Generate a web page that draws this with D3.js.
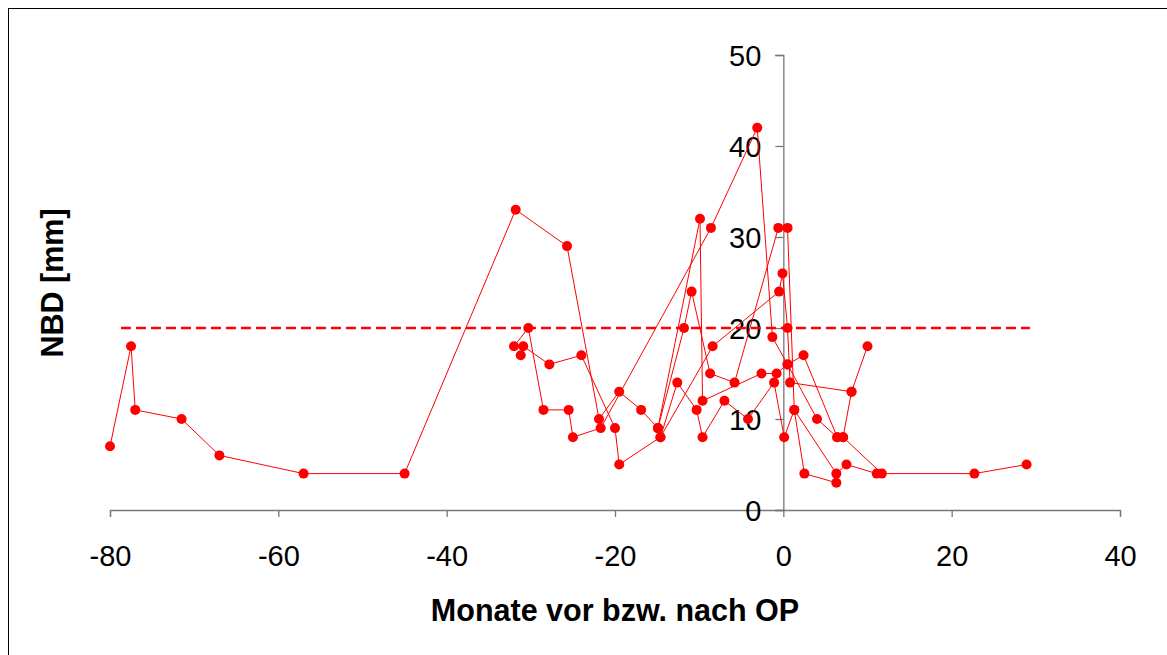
<!DOCTYPE html>
<html>
<head>
<meta charset="utf-8">
<script src="https://cdn.jsdelivr.net/npm/d3@7"></script>
<style>
  body { margin: 0; background: #fff; }
  text { font-family: "Liberation Sans", Arial, sans-serif; }
</style>
</head>
<body>
<div id="chart"></div>
<script>
// one array per patient, [monate, NBD]
let patient1 = [[-80, 7], [-77.5, 18], [-77, 11], [-71.5, 10], [-67, 6], [-57, 4], [-45, 4],
    [-31.8, 33], [-25.7, 29], [-21.9, 10], [-19.5, 13], [-16.9, 11], [-14.9, 9], [-11.8, 20],
    [-10.9, 24], [-8.7, 15], [-5.8, 14], [-0.6, 31], [0.5, 31], [1.3, 11], [6.3, 4], [7.5, 5], [11.1, 4]];
let patient2 = [[-32, 18], [-30.3, 20], [-28.5, 11], [-25.5, 11], [-25, 8], [-21.7, 9], [-8.6, 31],
    [-3.1, 42], [-1.3, 19], [0.5, 16], [2.4, 17], [6.4, 8], [7.1, 8], [11.7, 4], [22.7, 4], [28.9, 5]];
let patient3 = [[-31.2, 17], [-30.9, 18], [-27.8, 16], [-24, 17], [-20, 9], [-19.5, 5], [-14.6, 8],
    [-8.4, 18], [-0.5, 24], [-0.1, 26], [0.5, 20], [0.8, 14], [8.1, 13], [10, 18]];
let patient4 = [[-14.6, 8], [-12.6, 14], [-10.3, 11], [-9.6, 8], [-7, 12], [-4.2, 10], [-1.1, 14],
    [0.1, 8], [1.3, 11], [2.5, 4], [6.3, 3]];
let patient5 = [[-14.9, 9], [-9.9, 32], [-9.6, 12], [-2.6, 15], [-0.8, 15], [0.5, 16], [4, 10],
    [6.4, 8], [7.1, 8], [8.1, 13]];
let patients = [patient1, patient2, patient3, patient4, patient5];

// Grenzwert 20 mm
let limitLine = [[-78.7, 20], [29.3, 20]];

let xTicks = [-80, -60, -40, -20, 0, 20, 40];
let yTicks = [0, 10, 20, 30, 40, 50];

let width = 1167;
let height = 655;

let svg = d3.select("#chart")
    .append("svg")
    .attr("width", width)
    .attr("height", height);

// frame
svg.append("rect")
    .attr("x", 8.5)
    .attr("y", 8.5)
    .attr("width", 1200)
    .attr("height", 700)
    .attr("fill", "none")
    .attr("stroke", "#000")
    .attr("stroke-width", 1);

let xScale = d3.scaleLinear().domain([-80, 40]).range([110, 1120]);
let yScale = d3.scaleLinear().domain([0, 50]).range([510, 55]);

let xAxis = d3.axisBottom(xScale)
    .tickValues(xTicks)
    .tickSize(7)
    .tickPadding(28)
    .tickFormat(d3.format("d"));
let yAxis = d3.axisLeft(yScale)
    .tickValues(yTicks)
    .tickSize(8)
    .tickPadding(14)
    .tickFormat(d3.format("d"));

let gx = svg.append("g")
    .attr("transform", "translate(0," + yScale(0) + ")")
    .call(xAxis);
let gy = svg.append("g")
    .attr("transform", "translate(" + xScale(0) + ",0)")
    .call(yAxis);

[gx, gy].forEach(function(g) {
    g.select(".domain").attr("stroke", "#777").attr("stroke-width", 1.3);
    g.selectAll(".tick line").attr("stroke", "#777").attr("stroke-width", 1.3);
    g.selectAll(".tick text")
        .attr("fill", "#000")
        .style("font-size", "29px")
        .style("font-family", "Liberation Sans, Arial, sans-serif");
});
// minus sign like excel (hyphen)
gx.selectAll(".tick text").text(function(d) { return String(d); });
gy.selectAll(".tick text").attr("dy", "0.36em");

// dashed limit
svg.append("path")
    .datum(limitLine)
    .attr("fill", "none")
    .attr("stroke", "#ff0000")
    .attr("stroke-width", 2.6)
    .attr("stroke-dasharray", "10,5")
    .attr("d", d3.line()
        .x(function(d) { return xScale(d[0]); })
        .y(function(d) { return yScale(d[1]); }));

let line = d3.line()
    .x(function(d) { return xScale(d[0]); })
    .y(function(d) { return yScale(d[1]); });

patients.forEach(function(p) {
    svg.append("path")
        .datum(p)
        .attr("fill", "none")
        .attr("stroke", "#ff0000")
        .attr("stroke-width", 1)
        .attr("d", line);
});

patients.forEach(function(p) {
    svg.append("g")
        .selectAll("circle")
        .data(p)
        .enter()
        .append("circle")
        .attr("cx", function(d) { return xScale(d[0]); })
        .attr("cy", function(d) { return yScale(d[1]); })
        .attr("r", 5)
        .attr("fill", "#ff0000");
});

// axis titles
svg.append("text")
    .attr("x", 615)
    .attr("y", 621)
    .attr("text-anchor", "middle")
    .style("font-size", "30.5px")
    .style("font-weight", "bold")
    .text("Monate vor bzw. nach OP");

svg.append("text")
    .attr("transform", "translate(63,283)rotate(-90)")
    .attr("text-anchor", "middle")
    .style("font-size", "30.5px")
    .style("font-weight", "bold")
    .text("NBD [mm]");
</script>
</body>
</html>
